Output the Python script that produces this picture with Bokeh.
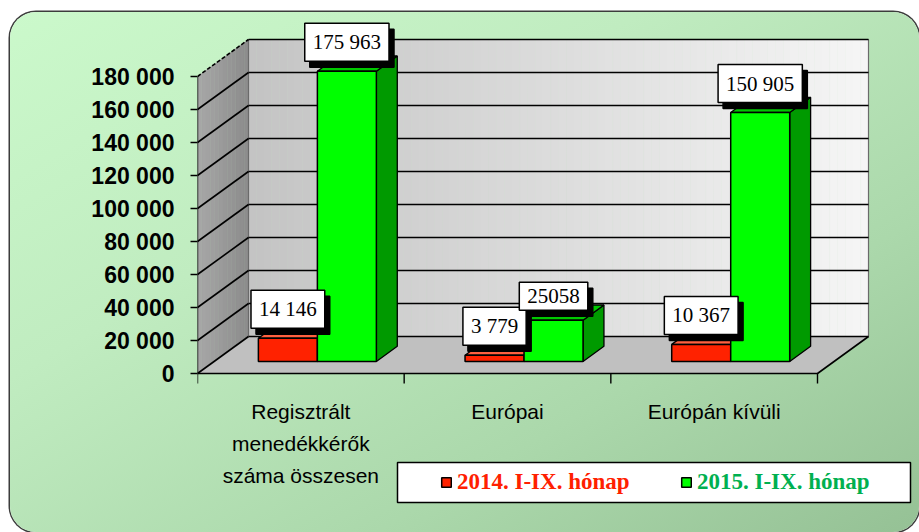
import numpy as np
from bokeh.plotting import figure
from bokeh.models import Range1d, FixedTicker, Legend, LegendItem
from bokeh.core.properties import value
from bokeh.embed import file_html
from bokeh.resources import INLINE

# ---------------- data ----------------
categories = ["Regisztrált\nmenedékkérők\nszáma összesen", "Európai", "Európán kívüli"]
series_names = ["2014. I-IX. hónap", "2015. I-IX. hónap"]
values_2014 = [14146, 3779, 10367]
values_2015 = [175963, 25058, 150905]
labels_2014 = ["14 146", "3 779", "10 367"]
labels_2015 = ["175 963", "25058", "150 905"]
y_ticks = [0, 20000, 40000, 60000, 80000, 100000, 120000, 140000, 160000, 180000]
y_tick_labels = ["0", "20 000", "40 000", "60 000", "80 000", "100 000",
                 "120 000", "140 000", "160 000", "180 000"]
y_max = 180000

# ---------------- geometry (styling) ----------------
W, H = 909, 520
LEFT = 187                 # space left of frame (axis panel)
PXX = 620 / 3              # px per category
PXY = 33 / 20000           # px per value unit
ZERO_PX = 361              # canvas y of value 0 on the front plane

def ux(px):
    return px / PXX

def uy(px):
    return px / PXY

DX, DY = ux(51), uy(37)    # full depth of the 3D walls
Z0, ZD = 12 / 37, 0.41     # bar depth placement
Z1 = Z0 + ZD
BW = ux(59)                # bar width
n = len(categories)

p = figure(width=W, height=H, output_backend="svg", toolbar_location=None,
           x_range=Range1d(0, ux(W - LEFT)),
           y_range=Range1d(-uy(H - ZERO_PX), uy(ZERO_PX)),
           x_axis_location=None,
           min_border_left=LEFT, min_border_right=0, min_border_top=0, min_border_bottom=0)
p.background_fill_color = None
p.border_fill_color = None
p.outline_line_color = None
p.grid.visible = False
p.styles = {
    "background": "linear-gradient(150deg, #cbf9cb 0%, #c0ecc0 35%, #abd8ab 70%, #95c195 100%)",
    "border-radius": "26px",
    "box-shadow": "0 0 0 1.5px #3c3c3c",
    "margin-left": "10px",
    "margin-top": "12px",
}

# ---------------- walls ----------------
NS = 12
side_xs, side_ys, side_cols = [], [], []
for k in range(NS):
    za, zb = k / NS, (k + 1) / NS
    side_xs.append([za * DX, zb * DX, zb * DX, za * DX])
    side_ys.append([za * DY, zb * DY, y_max + zb * DY, y_max + za * DY])
    g = int(168 - 28 * (k + 0.5) / NS)
    side_cols.append("#%02x%02x%02x" % (g, g, g))
p.patches(side_xs, side_ys, fill_color=side_cols, line_color=side_cols, line_width=0.5)

NB = 80
bl = [DX + n * k / NB for k in range(NB)]
br = [DX + n * (k + 1) / NB for k in range(NB)]
bcols = []
for k in range(NB):
    g = int(196 + 50 * (k + 0.5) / NB)
    bcols.append("#%02x%02x%02x" % (g, g, g))
p.quad(left=bl, right=br, bottom=DY, top=y_max + DY, fill_color=bcols, line_color=bcols, line_width=0.5)
p.quad(left=[DX], right=[n + DX], bottom=[DY], top=[y_max + DY], fill_color=None,
       line_color="#6a6a6a", line_width=1.2)

p.patch([0, n, n + DX, DX], [0, 0, DY, DY], fill_color="#c0c0c0", line_color=None)

for t in y_ticks:
    p.line([DX, n + DX], [t + DY, t + DY], line_color="black", line_width=1.6)
    p.line([0, DX], [t, t + DY], line_color="black", line_width=1.6,
           line_dash="4 2" if t == y_max else "solid")
p.line([0, 0], [0, y_max], line_color="black", line_width=1.4)
p.line([0, n, n + DX], [0, 0, DY], line_color="black", line_width=1.6)
for b in range(n + 1):
    p.line([b, b], [0, -uy(10)], line_color="black", line_width=1.4)

# ---------------- bars ----------------
centers = [i + 0.5 for i in range(n)]

def faces(lefts, rights, vals):
    side_x, side_y, top_x, top_y = [], [], [], []
    for l, r, v in zip(lefts, rights, vals):
        side_x.append([r + Z0 * DX, r + Z1 * DX, r + Z1 * DX, r + Z0 * DX])
        side_y.append([Z0 * DY, Z1 * DY, v + Z1 * DY, v + Z0 * DY])
        top_x.append([l + Z0 * DX, r + Z0 * DX, r + Z1 * DX, l + Z1 * DX])
        top_y.append([v + Z0 * DY, v + Z0 * DY, v + Z1 * DY, v + Z1 * DY])
    return side_x, side_y, top_x, top_y

red_l = [c - BW for c in centers]
red_r = centers
grn_l = centers
grn_r = [c + BW for c in centers]

sx, sy, tx, ty = faces(red_l, red_r, values_2014)
p.patches(sx, sy, fill_color="#b01800", line_color="black", line_width=1.3)
p.patches(tx, ty, fill_color="#ff6040", line_color="black", line_width=1.3)
r_red = p.quad(left=[l + Z0 * DX for l in red_l], right=[r + Z0 * DX for r in red_r],
               bottom=Z0 * DY, top=[v + Z0 * DY for v in values_2014],
               fill_color="#ff2200", line_color="black", line_width=1.5)

sx, sy, tx, ty = faces(grn_l, grn_r, values_2015)
p.patches(sx, sy, fill_color="#009a00", line_color="black", line_width=1.3)
p.patches(tx, ty, fill_color="#00c800", line_color="black", line_width=1.3)
r_grn = p.quad(left=[l + Z0 * DX for l in grn_l], right=[r + Z0 * DX for r in grn_r],
               bottom=Z0 * DY, top=[v + Z0 * DY for v in values_2015],
               fill_color="#00ff00", line_color="black", line_width=1.5)

# ---------------- data labels ----------------
lab_x = [c - BW / 2 + Z0 * DX for c in centers] + [c + BW / 2 + Z0 * DX for c in centers]
lab_y = [v + Z0 * DY for v in values_2014] + [v + Z0 * DY for v in values_2015]
lab_t = labels_2014 + labels_2015
common = dict(text_align="center", text_baseline="bottom",
              text_font=value("Liberation Serif"), text_font_size="21px",
              padding=dict(left=8, right=8, top=7, bottom=7), border_line_width=1.5)
p.text(x=lab_x, y=lab_y, text=lab_t, text_color="black", background_fill_color="black",
       border_line_color="black", x_offset=5, y_offset=-4, **common)
p.text(x=lab_x, y=lab_y, text=lab_t, text_color="black", background_fill_color="white",
       border_line_color="black", x_offset=0, y_offset=-10, **common)

# ---------------- category labels ----------------
p.text(x=centers, y=[-uy(26)] * n, text=categories, text_align="center", text_baseline="top",
       text_font=value("Liberation Sans"), text_font_size="21px", text_color="black",
       text_line_height=1.4)

# ---------------- y axis ----------------
ax = p.yaxis[0]
ax.ticker = FixedTicker(ticks=y_ticks)
ax.major_label_overrides = {t: l for t, l in zip(y_ticks, y_tick_labels)}
ax.axis_line_color = None
ax.major_tick_in = 0
ax.major_tick_out = 7
ax.major_tick_line_color = "black"
ax.major_tick_line_width = 1.4
ax.minor_tick_line_color = None
ax.major_label_standoff = 16
ax.major_label_text_font = "Liberation Sans"
ax.major_label_text_font_style = "bold"
ax.major_label_text_font_size = "23px"
ax.major_label_text_color = "black"

# ---------------- legend ----------------
lx0, lx1 = ux(397 - 197), ux(910 - 197)
ly1, ly0 = -uy(462 - 373), -uy(502 - 373)
p.quad(left=[lx0], right=[lx1], bottom=[ly0], top=[ly1], fill_color="white",
       line_color="black", line_width=1.5)

leg_common = dict(padding=0, margin=0, spacing=0, label_standoff=5,
                  glyph_width=12, glyph_height=12, border_line_color=None,
                  background_fill_alpha=0, label_text_font="Liberation Serif",
                  label_text_font_style="bold", label_text_font_size="23px")
leg1 = Legend(items=[LegendItem(label=series_names[0], renderers=[r_red])],
              location=(243, 37), label_text_color="#ff2000", **leg_common)
leg2 = Legend(items=[LegendItem(label=series_names[1], renderers=[r_grn])],
              location=(483, 37), label_text_color="#00b050", **leg_common)
p.add_layout(leg1)
p.add_layout(leg2)

open("out.html", "w").write(file_html(p, INLINE))
